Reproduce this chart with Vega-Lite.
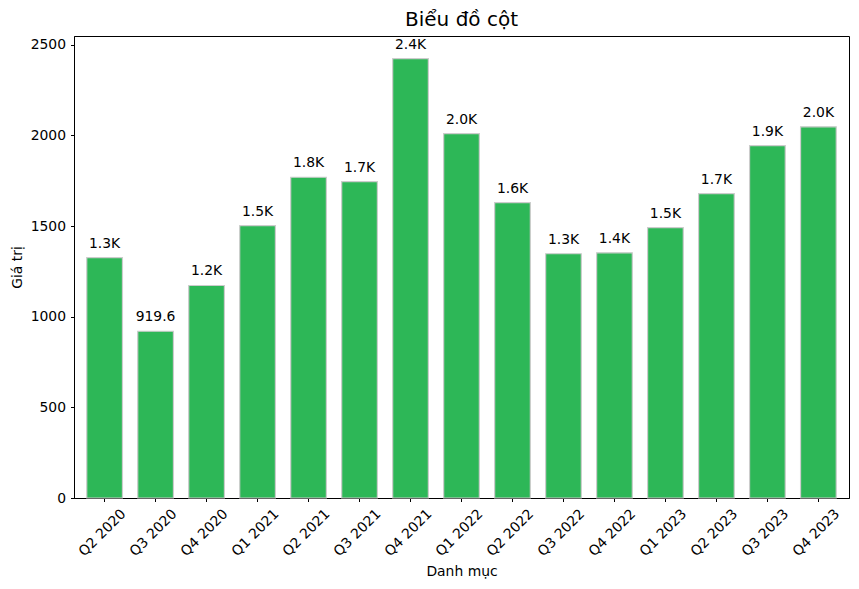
{
  "$schema": "https://vega.github.io/schema/vega-lite/v6.json",
  "width": 775,
  "height": 462,
  "autosize": {"type": "none"},
  "padding": {"left": 74, "top": 36, "right": 10, "bottom": 91},
  "background": "white",
  "title": {"text": "Biểu đồ cột", "font": "DejaVu Sans", "fontSize": 20, "fontWeight": "normal", "color": "black", "anchor": "middle", "offset": 6},
  "config": {"view": {"stroke": "black", "strokeWidth": 1}, "font": "DejaVu Sans"},
  "data": {"values": [
    {"category": "Q2 2020", "value": 1326, "label": "1.3K"},
    {"category": "Q3 2020", "value": 919.6, "label": "919.6"},
    {"category": "Q4 2020", "value": 1172, "label": "1.2K"},
    {"category": "Q1 2021", "value": 1502, "label": "1.5K"},
    {"category": "Q2 2021", "value": 1769, "label": "1.8K"},
    {"category": "Q3 2021", "value": 1745, "label": "1.7K"},
    {"category": "Q4 2021", "value": 2423, "label": "2.4K"},
    {"category": "Q1 2022", "value": 2010, "label": "2.0K"},
    {"category": "Q2 2022", "value": 1629, "label": "1.6K"},
    {"category": "Q3 2022", "value": 1347, "label": "1.3K"},
    {"category": "Q4 2022", "value": 1352, "label": "1.4K"},
    {"category": "Q1 2023", "value": 1491, "label": "1.5K"},
    {"category": "Q2 2023", "value": 1679, "label": "1.7K"},
    {"category": "Q3 2023", "value": 1943, "label": "1.9K"},
    {"category": "Q4 2023", "value": 2047, "label": "2.0K"}
  ]},
  "encoding": {
    "x": {
      "field": "category", "type": "nominal", "sort": null,
      "scale": {"paddingInner": 0.3, "paddingOuter": 0.25},
      "axis": {
        "title": "Danh mục", "labelAngle": -45, "labelAlign": "center", "labelBaseline": "middle",
        "labelPadding": 31, "tickSize": 3.5, "tickColor": "black", "domainColor": "black",
        "labelColor": "black", "labelFontSize": 13.9, "labelFont": "DejaVu Sans",
        "titleFont": "DejaVu Sans", "titleFontSize": 13.9, "titleFontWeight": "normal", "titleColor": "black",
        "titlePadding": 6, "labelOffset": -2
      }
    },
    "y": {
      "field": "value", "type": "quantitative",
      "scale": {"domain": [0, 2548], "nice": false},
      "axis": {
        "title": "Giá trị", "values": [0, 500, 1000, 1500, 2000, 2500], "format": "d", "grid": false,
        "labelPadding": 5, "tickSize": 3.5, "tickColor": "black", "domainColor": "black",
        "labelColor": "black", "labelFontSize": 13.9, "labelFont": "DejaVu Sans",
        "titleFont": "DejaVu Sans", "titleFontSize": 13.9, "titleFontWeight": "normal", "titleColor": "black",
        "titlePadding": 6
      }
    }
  },
  "layer": [
    {"mark": {"type": "bar", "color": "#2db757", "stroke": "#cccccc", "strokeWidth": 1.2}},
    {"mark": {"type": "text", "baseline": "bottom", "dy": -7, "fontSize": 13.9, "color": "black", "font": "DejaVu Sans"},
     "encoding": {"text": {"field": "label"}}}
  ]
}
